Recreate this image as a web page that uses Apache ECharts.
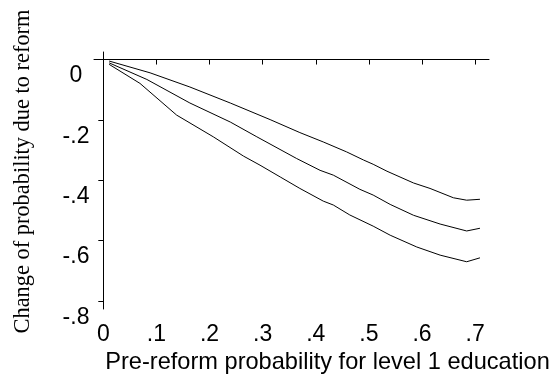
<!DOCTYPE html>
<html>
<head>
<meta charset="utf-8">
<script src="https://cdn.jsdelivr.net/npm/echarts@6/dist/echarts.min.js"></script>
<style>
  html, body { margin: 0; padding: 0; background: #fff; }
  #chart { width: 555px; height: 374px; }
</style>
</head>
<body>
<div id="chart"></div>
<script>
// values
var xTicks = [0, 0.1, 0.2, 0.3, 0.4, 0.5, 0.6, 0.7];
var yTicks = [0, -0.2, -0.4, -0.6, -0.8];

var topLine = [
    [0.011, -0.005], [0.088, -0.044], [0.163, -0.091], [0.239, -0.144],
    [0.314, -0.199], [0.370, -0.242], [0.414, -0.273], [0.458, -0.306],
    [0.490, -0.333], [0.508, -0.347], [0.534, -0.370], [0.584, -0.409],
    [0.615, -0.427], [0.659, -0.458], [0.684, -0.466], [0.709, -0.463]
];
var midLine = [
    [0.011, -0.011], [0.082, -0.066], [0.163, -0.144], [0.239, -0.207],
    [0.289, -0.256], [0.364, -0.328], [0.408, -0.367], [0.433, -0.383],
    [0.483, -0.430], [0.508, -0.449], [0.540, -0.480], [0.584, -0.516],
    [0.634, -0.545], [0.684, -0.568], [0.709, -0.559]
];
var lowLine = [
    [0.011, -0.016], [0.069, -0.079], [0.138, -0.184], [0.207, -0.256],
    [0.264, -0.320], [0.295, -0.350], [0.333, -0.389], [0.370, -0.427],
    [0.414, -0.469], [0.433, -0.482], [0.464, -0.515], [0.508, -0.552],
    [0.540, -0.582], [0.590, -0.621], [0.634, -0.648], [0.684, -0.670],
    [0.709, -0.657]
];

function fmt(v) {
    if (v === 0) return '0';
    return String(Math.round(v * 10) / 10).replace('0.', '.');
}

var chart = echarts.init(document.getElementById('chart'));

function lineSeries(name, data) {
    return {
        name: name,
        type: 'line',
        data: data,
        symbol: 'none',
        silent: true,
        lineStyle: { color: '#000', width: 1 }
    };
}

var option = {
    animation: false,
    grid: { left: 94, right: 66, top: 52, bottom: 65, outerBoundsMode: 'none', containLabel: false },
    xAxis: {
        type: 'value',
        min: -0.0175,
        max: 0.726,
        name: 'Pre-reform probability for level 1 education',
        nameLocation: 'middle',
        nameGap: 41,
        nameTextStyle: {
            color: '#000', fontFamily: 'Liberation Sans', fontSize: 23.6,
            padding: [0, 0, 0, 72]
        },
        splitLine: { show: false },
        axisLine: { lineStyle: { color: '#000', width: 1 } },
        axisTick: { customValues: xTicks, length: 5, lineStyle: { color: '#000' } },
        axisLabel: {
            customValues: xTicks,
            formatter: fmt,
            color: '#000', fontFamily: 'Liberation Sans', fontSize: 23,
            margin: 14
        }
    },
    yAxis: {
        type: 'value',
        min: -0.8265,
        max: 0.025,
        name: 'Change of probability due to reform',
        nameLocation: 'middle',
        nameGap: 60,
        nameRotate: 90,
        nameTextStyle: {
            color: '#000', fontFamily: 'Liberation Serif', fontSize: 22.4,
            padding: [0, 0, 0, 18]
        },
        splitLine: { show: false },
        axisLine: { show: true, lineStyle: { color: '#000', width: 1 } },
        axisTick: { show: true, customValues: yTicks, length: 5, lineStyle: { color: '#000' } },
        axisLabel: {
            customValues: yTicks,
            formatter: fmt,
            color: '#000', fontFamily: 'Liberation Sans', fontSize: 23,
            align: 'center',
            verticalAlign: 'top',
            margin: 18,
            padding: [5, 0, 0, 0]
        }
    },
    series: [
        lineSeries('top', topLine),
        lineSeries('mid', midLine),
        lineSeries('low', lowLine)
    ]
};

chart.setOption(option);
</script>
</body>
</html>
